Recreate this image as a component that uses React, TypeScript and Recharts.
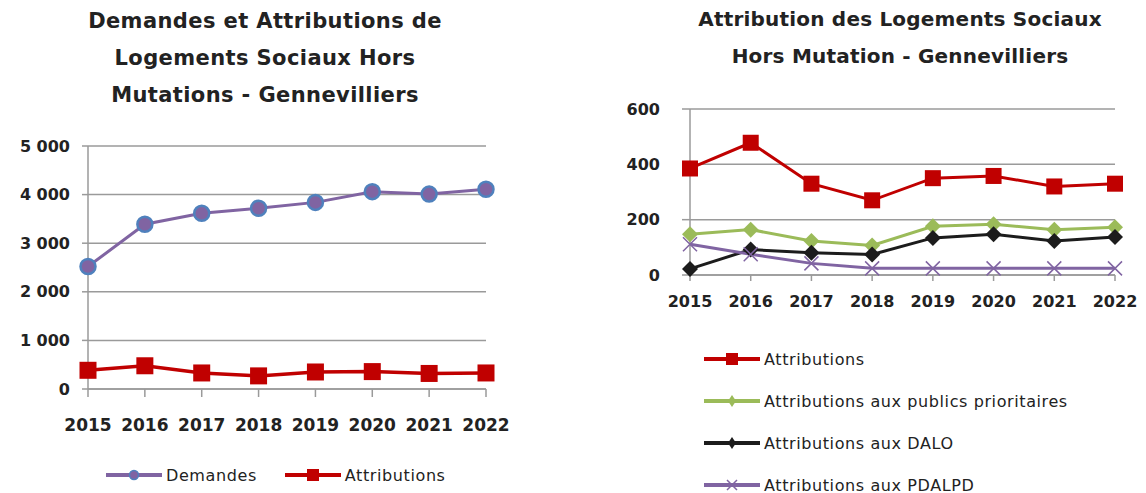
import React from 'react';
import { LineChart, Line, XAxis, YAxis, CartesianGrid } from 'recharts';

const years = ['2015', '2016', '2017', '2018', '2019', '2020', '2021', '2022'];
const demandes = [2520, 3390, 3615, 3720, 3840, 4060, 4010, 4110];
const attributions = [385, 478, 330, 270, 350, 358, 320, 330];
const prioritaires = [147, 164, 123, 107, 176, 183, 164, 173];
const dalo = [22, 92, 80, 74, 134, 147, 123, 137];
const pdalpd = [111, 75, 42, 24, 24, 24, 24, 24];
const leftTicks = [0, 1000, 2000, 3000, 4000, 5000];
const rightTicks = [0, 200, 400, 600];

const FONT = '"DejaVu Sans", sans-serif';
const PURPLE = '#8064A2';
const BLUE = '#4F81BD';
const RED = '#C00000';
const GREEN = '#9BBB59';
const BLACK = '#1C1C1C';
const GRID = '#9a9a9a';

const leftData = years.map((y, i) => ({ year: y, demandes: demandes[i], attributions: attributions[i] }));
const rightData = years.map((y, i) => ({
  year: y,
  attributions: attributions[i],
  prioritaires: prioritaires[i],
  dalo: dalo[i],
  pdalpd: pdalpd[i],
}));

const fmtThousands = (v: number) => String(v).replace(/\B(?=(\d{3})+(?!\d))/g, ' ');

const circleDot = (p: any) => (
  <circle key={`c${p.index}`} cx={p.cx} cy={p.cy} r={7.5} fill={PURPLE} stroke={BLUE} strokeWidth={2.5} />
);
const squareDot = (size: number) => (p: any) => (
  <rect key={`s${p.index}`} x={p.cx - size / 2} y={p.cy - size / 2} width={size} height={size} fill={RED} />
);
const diamondDot = (color: string) => (p: any) => (
  <polygon
    key={`d${p.index}`}
    points={`${p.cx},${p.cy - 8} ${p.cx + 8},${p.cy} ${p.cx},${p.cy + 8} ${p.cx - 8},${p.cy}`}
    fill={color}
  />
);
const crossDot = (p: any) => (
  <path
    key={`x${p.index}`}
    d={`M${p.cx - 7},${p.cy - 7}L${p.cx + 7},${p.cy + 7}M${p.cx - 7},${p.cy + 7}L${p.cx + 7},${p.cy - 7}`}
    stroke={PURPLE}
    strokeWidth={1.5}
  />
);

const LegendIcon = ({ color, marker }: { color: string; marker: string }) => (
  <svg width={56} height={14} style={{ verticalAlign: 'middle', marginRight: 4 }}>
    <line x1={0} y1={7} x2={56} y2={7} stroke={color} strokeWidth={4} />
    {marker === 'circle' && <circle cx={28} cy={7} r={4.5} fill={PURPLE} stroke={BLUE} strokeWidth={1.5} />}
    {marker === 'square' && <rect x={22} y={1} width={12} height={12} fill={RED} />}
    {marker === 'diamond' && <polygon points="28,1 32,7 28,13 24,7" fill={color} />}
    {marker === 'cross' && <path d="M23,2L33,12M23,12L33,2" stroke={color} strokeWidth={1.5} />}
  </svg>
);

const titleStyle: React.CSSProperties = {
  position: 'absolute',
  fontFamily: FONT,
  fontWeight: 'bold',
  fontSize: 20,
  lineHeight: '37px',
  textAlign: 'center',
  color: '#222',
  whiteSpace: 'nowrap',
};

const legendText: React.CSSProperties = {
  fontFamily: FONT,
  fontSize: 16,
  letterSpacing: 0.6,
  color: '#222',
  verticalAlign: 'middle',
};

export default function App() {
  return (
    <div style={{ position: 'absolute', left: 0, top: 0, width: 1146, height: 493, background: '#fff' }}>
      <div style={{ ...titleStyle, left: 40, top: 3, width: 450, fontSize: 21, letterSpacing: 0.4 }}>
        Demandes et Attributions de<br />Logements Sociaux Hors<br />Mutations - Gennevilliers
      </div>
      <div style={{ ...titleStyle, left: 660, top: 1, width: 480, letterSpacing: 0.2 }}>
        Attribution des Logements Sociaux<br />Hors Mutation - Gennevilliers
      </div>

      <div style={{ position: 'absolute', left: 0, top: 0 }}>
        <LineChart width={540} height={493} data={leftData} margin={{ top: 146, right: 54, left: 0, bottom: 74 }}>
          <CartesianGrid vertical={false} stroke={GRID} strokeWidth={1.5} />
          <XAxis
            dataKey="year"
            height={30}
            stroke={GRID}
            strokeWidth={1.5}
            tickSize={8}
            tickMargin={22}
            tick={{ fill: '#222', fontSize: 17, fontWeight: 'bold', fontFamily: FONT }}
            interval={0}
          />
          <YAxis
            width={88}
            domain={[0, 5000]}
            ticks={leftTicks}
            tickFormatter={fmtThousands}
            stroke={GRID}
            strokeWidth={1.5}
            tickSize={6}
            tickMargin={12}
            tick={{ fill: '#222', fontSize: 16, fontWeight: 'bold', fontFamily: FONT }}
          />
          <Line dataKey="demandes" stroke={PURPLE} strokeWidth={3} dot={circleDot} isAnimationActive={false} />
          <Line dataKey="attributions" stroke={RED} strokeWidth={3.5} dot={squareDot(17)} isAnimationActive={false} />
        </LineChart>
      </div>

      <div style={{ position: 'absolute', left: 586, top: 0 }}>
        <LineChart width={560} height={493} data={rightData} margin={{ top: 109, right: 31, left: 0, bottom: 188 }}>
          <CartesianGrid vertical={false} stroke={GRID} strokeWidth={1.5} />
          <XAxis
            dataKey="year"
            height={30}
            stroke={GRID}
            strokeWidth={1.5}
            tickSize={6}
            tickMargin={15}
            tick={{ fill: '#222', fontSize: 16, fontWeight: 'bold', fontFamily: FONT }}
            interval={0}
          />
          <YAxis
            width={104}
            domain={[0, 600]}
            ticks={rightTicks}
            stroke={GRID}
            strokeWidth={1.5}
            tickSize={8}
            tickMargin={22}
            tick={{ fill: '#222', fontSize: 16, fontWeight: 'bold', fontFamily: FONT }}
          />
          <Line dataKey="attributions" stroke={RED} strokeWidth={3} dot={squareDot(16)} isAnimationActive={false} />
          <Line dataKey="prioritaires" stroke={GREEN} strokeWidth={3} dot={diamondDot(GREEN)} isAnimationActive={false} />
          <Line dataKey="dalo" stroke={BLACK} strokeWidth={3} dot={diamondDot(BLACK)} isAnimationActive={false} />
          <Line dataKey="pdalpd" stroke={PURPLE} strokeWidth={3} dot={crossDot} isAnimationActive={false} />
        </LineChart>
      </div>

      <div style={{ position: 'absolute', left: 106, top: 465, whiteSpace: 'nowrap' }}>
        <LegendIcon color={PURPLE} marker="circle" />
        <span style={legendText}>Demandes</span>
        <span style={{ display: 'inline-block', width: 28 }} />
        <LegendIcon color={RED} marker="square" />
        <span style={legendText}>Attributions</span>
      </div>

      <div style={{ position: 'absolute', left: 704, top: 349, whiteSpace: 'nowrap' }}>
        {[
          { label: 'Attributions', color: RED, marker: 'square' },
          { label: 'Attributions aux publics prioritaires', color: GREEN, marker: 'diamond' },
          { label: 'Attributions aux DALO', color: BLACK, marker: 'diamond' },
          { label: 'Attributions aux PDALPD', color: PURPLE, marker: 'cross' },
        ].map((it) => (
          <div key={it.label} style={{ height: 42 }}>
            <LegendIcon color={it.color} marker={it.marker} />
            <span style={legendText}>{it.label}</span>
          </div>
        ))}
      </div>
    </div>
  );
}
